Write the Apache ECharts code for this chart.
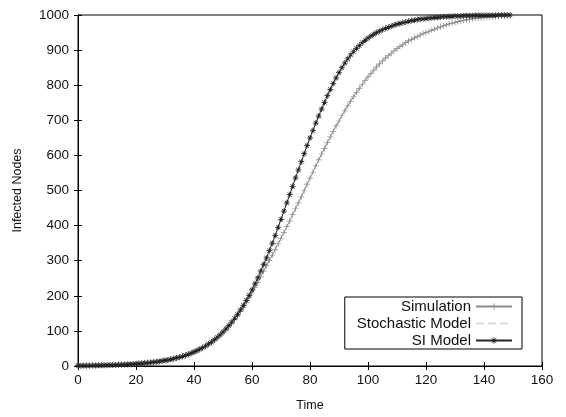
<!DOCTYPE html>
<html lang="en">
<head>
    <meta charset="UTF-8">
    <title>Infected Nodes over Time</title>
    <script src="https://cdn.jsdelivr.net/npm/echarts@6/dist/echarts.min.js"></script>
    <style>
        body, html {
            margin: 0;
            padding: 0;
            width: 100%;
            height: 100%;
            background-color: #fff;
        }
        #chart {
            width: 566px;
            height: 417px;
        }
    </style>
</head>
<body>
    <div id="chart"></div>
    <script>
        // values, one per time step (t = 0, 1, 2, ...)
        var simulation = [
            1, 1, 1, 1, 1, 2, 2, 2, 2, 2,
            3, 3, 3, 3, 4, 4, 4, 5, 5, 6,
            6, 7, 7, 8, 9, 10, 11, 12, 13, 14,
            16, 17, 19, 21, 23, 25, 27, 30, 33, 36,
            40, 43, 47, 52, 56, 62, 67, 73, 80, 87,
            95, 103, 112, 122, 132, 143, 155, 167, 180, 194,
            208, 223, 238, 254, 270, 286, 301, 316, 332, 348,
            364, 380, 397, 413, 431, 448, 465, 482, 500, 518,
            535, 552, 570, 587, 604, 620, 637, 653, 668, 684,
            698, 713, 727, 741, 754, 767, 779, 791, 802, 813,
            824, 833, 843, 852, 861, 869, 877, 884, 891, 898,
            904, 910, 915, 921, 926, 930, 935, 939, 943, 947,
            950, 953, 957, 960, 963, 966, 969, 972, 975, 977,
            979, 981, 983, 985, 986, 988, 989, 990, 991, 992,
            993, 994, 995, 995, 996, 996, 997, 997, 998, 998
        ];
        var stochasticModel = [
            1, 1, 1, 1, 1, 1, 2, 2, 2, 2,
            2, 3, 3, 3, 3, 4, 4, 5, 5, 5,
            6, 7, 7, 8, 9, 10, 11, 12, 13, 14,
            15, 17, 19, 21, 23, 25, 27, 30, 33, 36,
            39, 43, 47, 51, 56, 61, 67, 73, 80, 87,
            95, 103, 112, 121, 132, 143, 154, 167, 180, 194,
            208, 223, 239, 254, 270, 286, 302, 317, 333, 349,
            365, 381, 398, 414, 431, 448, 466, 483, 500, 518,
            535, 553, 570, 587, 604, 621, 637, 653, 669, 684,
            699, 713, 727, 741, 754, 767, 779, 791, 802, 813,
            823, 833, 843, 852, 860, 869, 877, 884, 891, 897,
            904, 910, 915, 920, 925, 930, 934, 939, 943, 946,
            950, 953, 956, 959, 962, 965, 968, 971, 974, 976,
            978, 980, 982, 984, 986, 987, 988, 990, 991, 992,
            993, 994, 994, 995, 996, 996, 997, 997, 997, 998
        ];
        var siModel = [
            0.9, 1.0, 1.1, 1.2, 1.4, 1.5, 1.6, 1.8, 2.0, 2.2,
            2.4, 2.6, 2.9, 3.2, 3.5, 3.8, 4.2, 4.6, 5.1, 5.6,
            6.2, 6.8, 7.5, 8.2, 9.0, 9.9, 10.9, 11.9, 13.1, 14.4,
            15.8, 17.3, 19.0, 20.9, 22.9, 25.1, 27.6, 30.3, 33.2, 36.4,
            40, 44, 48, 52, 57, 63, 68, 75, 82, 89,
            97, 106, 115, 125, 136, 147, 160, 173, 187, 201,
            217, 234, 251, 270, 289, 308, 329, 350, 372, 395,
            418, 441, 465, 488, 512, 536, 559, 582, 605, 628,
            650, 671, 692, 712, 732, 751, 770, 788, 805, 821,
            836, 850, 863, 875, 886, 896, 905, 913, 921, 928,
            934, 940, 945, 950, 954, 958, 962, 965, 968, 971,
            974, 976, 978, 980, 982, 984, 985, 987, 988, 989,
            990, 991, 992, 993, 993, 994, 995, 995, 996, 996,
            997, 997, 997, 998, 998, 998, 998, 999, 999, 999,
            999, 999, 999, 999, 999, 1000, 1000, 1000, 1000, 1000
        ];
        var seriesNames = ['Simulation', 'Stochastic Model', 'SI Model'];
        var timeRange = [0, 160];
        var nodeRange = [0, 1000];

        // pair each value with its time step
        function toPoints(values) {
            return values.map(function (v, i) { return [i, v]; });
        }

        var plusSymbol = 'path://M4.4,0h1.2v4.4h4.4v1.2h-4.4v4.4h-1.2v-4.4h-4.4v-1.2h4.4z';
        var starSymbol = 'path://M4.4,0h1.2v10h-1.2z M0,4.4h10v1.2h-10z ' +
            'M1.1,1.9L1.9,1.1L8.9,8.1L8.1,8.9z M8.1,1.1L8.9,1.9L1.9,8.9L1.1,8.1z';

        var font = 'Liberation Sans';

        var tickStyle = { show: true, inside: true, length: 4, lineStyle: { color: '#000' } };

        var option = {
            backgroundColor: '#fff',
            animation: false,
            textStyle: { fontFamily: font },
            grid: {
                left: 78, right: 24, top: 15, bottom: 49,
                show: true, borderColor: '#000', borderWidth: 1
            },
            legend: {
                right: 44,
                top: 297,
                orient: 'vertical',
                align: 'right',
                itemWidth: 36,
                itemHeight: 8,
                itemGap: 2,
                padding: [2, 9, 1, 12],
                borderColor: '#000',
                borderWidth: 1,
                backgroundColor: '#fff',
                textStyle: { fontFamily: font, fontSize: 15, color: '#111', width: 114, align: 'right' },
                data: [
                    seriesNames[0],
                    // the stochastic model shows as a bare faint line
                    { name: seriesNames[1], itemStyle: { opacity: 0 } },
                    seriesNames[2]
                ]
            },
            xAxis: [{
                type: 'value',
                min: timeRange[0], max: timeRange[1], interval: 20,
                name: 'Time',
                nameLocation: 'middle',
                nameGap: 33,
                nameTextStyle: { fontFamily: font, fontSize: 12.5, color: '#111' },
                axisLine: { show: true, lineStyle: { color: '#000' } },
                axisTick: tickStyle,
                axisLabel: { fontFamily: font, fontSize: 13.5, color: '#111', margin: 7 },
                splitLine: { show: false }
            }, {
                type: 'value',
                position: 'top',
                min: timeRange[0], max: timeRange[1], interval: 20,
                axisLine: { show: true, lineStyle: { color: '#000' } },
                axisTick: tickStyle,
                axisLabel: { show: false },
                splitLine: { show: false }
            }],
            yAxis: [{
                type: 'value',
                min: nodeRange[0], max: nodeRange[1], interval: 100,
                name: 'Infected Nodes',
                nameLocation: 'middle',
                nameGap: 54,
                nameTextStyle: { fontFamily: font, fontSize: 12.5, color: '#111' },
                axisLine: { show: true, lineStyle: { color: '#000' } },
                axisTick: tickStyle,
                axisLabel: {
                    fontFamily: font, fontSize: 13.5, color: '#111', margin: 9,
                    formatter: function (v) { return String(v); }
                },
                splitLine: { show: false }
            }, {
                type: 'value',
                position: 'right',
                min: nodeRange[0], max: nodeRange[1], interval: 100,
                axisLine: { show: true, lineStyle: { color: '#000' } },
                axisTick: tickStyle,
                axisLabel: { show: false },
                splitLine: { show: false }
            }],
            series: [{
                name: seriesNames[0],
                type: 'line',
                data: toPoints(simulation),
                showAllSymbol: true,
                symbol: plusSymbol,
                symbolSize: 6,
                lineStyle: { color: '#8c8c8c', width: 1 },
                itemStyle: { color: '#8c8c8c' },
                z: 3
            }, {
                name: seriesNames[1],
                type: 'line',
                data: toPoints(stochasticModel),
                showSymbol: false,
                symbol: 'none',
                lineStyle: { color: '#d9d9d9', width: 1, type: 'dashed' },
                itemStyle: { color: '#d9d9d9' },
                z: 2
            }, {
                name: seriesNames[2],
                type: 'line',
                data: toPoints(siModel),
                showAllSymbol: true,
                symbol: starSymbol,
                symbolSize: 6,
                lineStyle: { color: '#222', width: 1 },
                itemStyle: { color: '#222' },
                z: 4
            }]
        };

        var chart = echarts.init(document.getElementById('chart'));
        chart.setOption(option);
    </script>
</body>
</html>
